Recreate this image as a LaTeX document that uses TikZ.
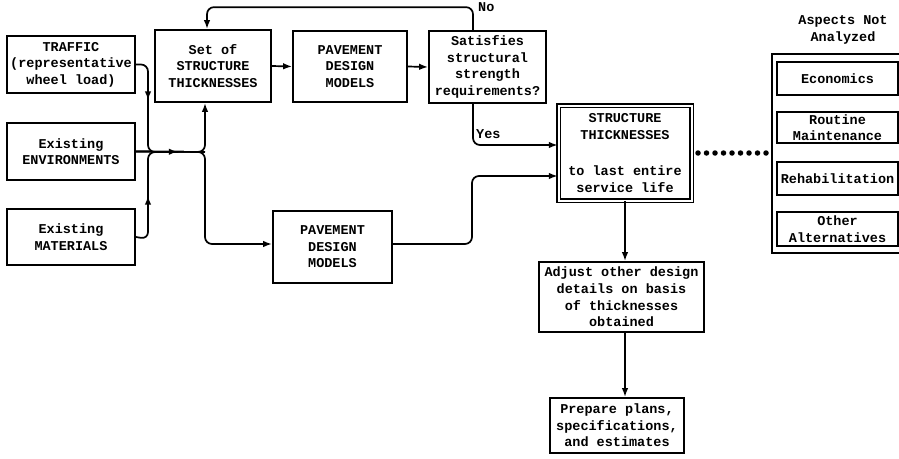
\documentclass[tikz,border=0pt]{standalone}
\usepackage{fontspec}
\setmainfont{Liberation Mono}
\usetikzlibrary{arrows.meta,decorations.markings}
\begin{document}
\begin{tikzpicture}[x=1pt,y=-1pt,
  box/.style={draw,line width=1.7pt,align=center,inner sep=0pt,
    font=\fontsize{13.5}{16.6}\selectfont\bfseries},
  lbl/.style={inner sep=0pt,font=\fontsize{13.5}{16.6}\selectfont\bfseries},
  conn/.style={line width=1.7pt,rounded corners=7pt},
  tip/.style={-{Latex[length=9pt,width=6.5pt]}},
  midarrow/.style={postaction={decorate},decoration={markings,
    mark=at position #1 with {\arrow{Latex[length=9pt,width=6.5pt]}}}},
]
\useasboundingbox (0,0) rectangle (899,458);

% left inputs
\node[box,minimum width=128,minimum height=57] (TRAFFIC) at (71,64.5)
  {TRAFFIC\\(representative\\wheel load)};
\node[box,minimum width=128,minimum height=57] (ENV) at (71,151.5)
  {Existing\\ENVIRONMENTS};
\node[box,minimum width=128,minimum height=56] (MAT) at (71,237)
  {Existing\\MATERIALS};

% top row
\node[box,minimum width=116,minimum height=72] (SET) at (213,66)
  {Set of\\STRUCTURE\\THICKNESSES};
\node[box,minimum width=114,minimum height=71] (PDMA) at (350,66.5)
  {PAVEMENT\\DESIGN\\MODELS};
\node[box,minimum width=117,minimum height=72] (SAT) at (487.5,67)
  {Satisfies\\structural\\strength\\requirements?};

% lower models
\node[box,minimum width=119,minimum height=72] (PDMB) at (332.5,247)
  {PAVEMENT\\DESIGN\\MODELS};

% result
\node[box,double,double distance=2pt,line width=1.3pt,minimum width=133,minimum height=95] (STR) at (625,153)
  {STRUCTURE\\THICKNESSES\\[20pt]to last entire\\service life};
\node[box,minimum width=165,minimum height=70] (ADJ) at (621.5,297)
  {Adjust other design\\details on basis\\of thicknesses\\obtained};
\node[box,minimum width=134,minimum height=55] (PREP) at (617,425.5)
  {Prepare plans,\\specifications,\\and estimates};

% aspects not analyzed
\node[lbl,align=center] (ASP) at (843,30) {Aspects Not\\Analyzed};
\coordinate (BT) at (772,54);
\coordinate (BB) at (772,253);
\coordinate (BM) at (772,153);
\draw[line width=1.7pt] (899,54) -- (BT) -- (BB) -- (899,253);
\node[box,minimum width=121,minimum height=33] (ECO) at (837.5,78.5) {Economics};
\node[box,minimum width=121,minimum height=31] (ROU) at (837.5,127.5) {Routine\\Maintenance};
\node[box,minimum width=121,minimum height=33] (REH) at (837.5,178.5) {Rehabilitation};
\node[box,minimum width=121,minimum height=34] (OTH) at (837.5,229) {Other\\Alternatives};

% junction of inputs
\coordinate (J) at (205,152);
\draw[conn,midarrow=45pt] (TRAFFIC.east) -- (148,64.5) -- (148,152) -- (178,152);
\draw[conn,midarrow=52pt] (MAT.east) -- (148,239) -- (148,152) -- (178,152);
\draw[conn,midarrow=42pt] (ENV.east) -- (J);
\draw[conn,tip] (ENV.east) -- (J) -- (J |- SET.south);
\draw[conn,tip] (ENV.east) -- (J) -- (205,244) -- (PDMB.west |- 0,244);

% top row flow
\draw[conn,tip] (SET.east) -- (PDMA.west);
\draw[conn,tip] (PDMA.east) -- (SAT.west);
\draw[conn,tip] ([xshift=-14.5pt]SAT.north) -- ++(0,-23) -| ([xshift=-6pt]SET.north);
\node[lbl,anchor=west] (NO) at (478,7) {No};
\draw[conn,tip] ([xshift=-14.5pt]SAT.south) -- (473,145) -- (STR.west |- 0,145);
\node[lbl,anchor=west] (YES) at (476,134) {Yes};
\draw[conn,tip] (PDMB.east |- 0,244) -- (472,244) -- (472,176) -- (STR.west |- 0,176);

% downward flow
\draw[conn,tip] (STR.south) -- (STR.south |- ADJ.north);
\draw[conn,tip] (STR.south |- ADJ.south) -- (STR.south |- PREP.north);

% dotted link
\draw[line width=5.5pt,line cap=round,dash pattern=on 0pt off 8.5pt]
  (698,153) -- ([xshift=-5pt]BM);
\end{tikzpicture}
\end{document}
